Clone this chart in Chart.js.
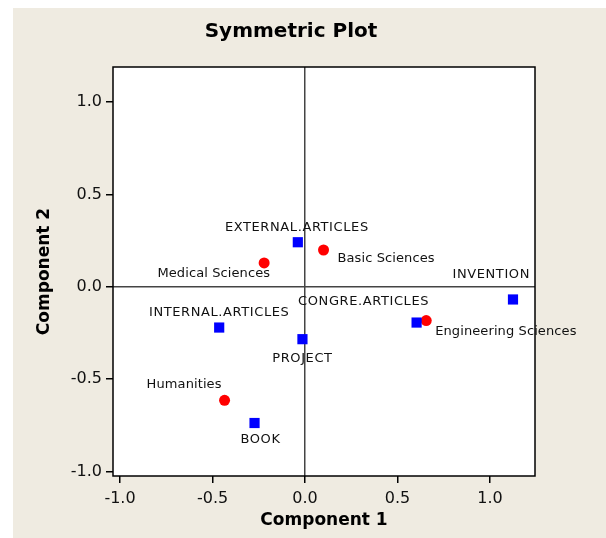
<!DOCTYPE html>
<html>
<head>
<meta charset="utf-8">
<title>Symmetric Plot</title>
<script src="https://cdn.jsdelivr.net/npm/chart.js@4.4.0/dist/chart.umd.min.js"></script>
<style>
  body { margin: 0; background: #fff; }
  canvas { display: block; }
</style>
</head>
<body>
<canvas id="symChart" width="606" height="538"></canvas>
<script>
// 列カテゴリ（四角マーカー）
const columnNames = ['EXTERNAL.ARTICLES', 'INTERNAL.ARTICLES', 'CONGRE.ARTICLES', 'BOOK', 'PROJECT', 'INVENTION'];
const columnComp1 = [-0.039, -0.464, 0.603, -0.273, -0.014, 1.124];
const columnComp2 = [0.241, -0.221, -0.194, -0.738, -0.284, -0.069];

// 行カテゴリ（丸マーカー）
const rowNames = ['Basic Sciences', 'Medical Sciences', 'Engineering Sciences', 'Humanities'];
const rowComp1 = [0.100, -0.221, 0.655, -0.435];
const rowComp2 = [0.199, 0.129, -0.183, -0.615];

// 目盛り
const tickValues = [-1.0, -0.5, 0.0, 0.5, 1.0];

// ラベルの位置（点からのずれ）
const columnLabelPos = [[-1, -15, 'center'], [0, -15, 'center'], [-53, -21, 'center'], [6, 17, 'center'], [0, 19, 'center'], [17, -25, 'right']];
const rowLabelPos = [[14, 9, 'left'], [6, 11, 'right'], [9, 11, 'left'], [-3, -16, 'right']];

const FONT = '"DejaVu Sans", Verdana, sans-serif';

function toPoints(xs, ys) {
    return xs.map((x, i) => ({ x: x, y: ys[i] }));
}

// 背景・枠・タイトル
const framePlugin = {
    id: 'frame',
    beforeDraw(chart) {
        const ctx = chart.ctx;
        const a = chart.chartArea;
        ctx.save();
        ctx.fillStyle = '#efebe1';
        ctx.fillRect(13, 8, chart.width - 13, chart.height - 8);
        ctx.fillStyle = '#ffffff';
        ctx.fillRect(a.left, a.top, a.right - a.left, a.bottom - a.top);
        ctx.fillStyle = '#000';
        ctx.font = 'bold 20px ' + FONT;
        ctx.textAlign = 'center';
        ctx.textBaseline = 'middle';
        ctx.fillText('Symmetric Plot', 291, 32);
        ctx.restore();
    },
    beforeDatasetsDraw(chart) {
        const ctx = chart.ctx;
        const a = chart.chartArea;
        ctx.save();
        ctx.strokeStyle = '#000';
        ctx.lineWidth = 1.5;
        ctx.strokeRect(a.left, a.top, a.right - a.left, a.bottom - a.top);
        ctx.restore();
    }
};

// 点ラベル
const labelPlugin = {
    id: 'pointLabels',
    afterDatasetsDraw(chart) {
        const ctx = chart.ctx;
        const sets = [[columnNames, columnLabelPos], [rowNames, rowLabelPos]];
        ctx.save();
        ctx.font = '13px ' + FONT;
        ctx.fillStyle = '#111';
        ctx.textBaseline = 'middle';
        sets.forEach((s, i) => {
            const meta = chart.getDatasetMeta(i);
            // 大文字ラベルは少し字間を広げる
            ctx.letterSpacing = i === 0 ? '0.6px' : '0.1px';
            meta.data.forEach((pt, j) => {
                const pos = s[1][j];
                ctx.textAlign = pos[2];
                ctx.fillText(s[0][j], pt.x + pos[0], pt.y + pos[1]);
            });
        });
        ctx.restore();
    }
};

function axisOptions(min, max, title, titlePadding, isY) {
    return {
        type: 'linear',
        min: min,
        max: max,
        afterBuildTicks(scale) {
            scale.ticks = tickValues.map(v => ({ value: v }));
        },
        afterFit(scale) {
            if (isY) scale.width = 113;
            else scale.height = 62;
        },
        ticks: {
            color: '#111',
            padding: isY ? 4 : 6,
            font: { family: FONT, size: 16 },
            callback: v => v.toFixed(1)
        },
        grid: {
            drawOnChartArea: true,
            color: c => (c.tick && c.tick.value === 0) ? '#444' : 'rgba(0,0,0,0)',
            tickColor: '#000',
            tickLength: 7,
            lineWidth: 1.5
        },
        border: { display: false },
        title: {
            display: true,
            text: title,
            color: '#000',
            padding: titlePadding,
            font: { family: FONT, size: 17, weight: 'bold' }
        }
    };
}

new Chart(document.getElementById('symChart').getContext('2d'), {
    type: 'scatter',
    data: {
        datasets: [{
            label: 'Columns',
            data: toPoints(columnComp1, columnComp2),
            pointStyle: 'rect',
            pointRadius: 7.2,
            backgroundColor: '#0000ff',
            borderWidth: 0
        }, {
            label: 'Rows',
            data: toPoints(rowComp1, rowComp2),
            pointStyle: 'circle',
            pointRadius: 5.5,
            backgroundColor: '#ff0000',
            borderWidth: 0
        }]
    },
    options: {
        responsive: false,
        animation: false,
        layout: { padding: { left: 0, top: 67, right: 71, bottom: 0 } },
        plugins: {
            legend: { display: false },
            tooltip: { enabled: false }
        },
        scales: {
            x: axisOptions(-1.038, 1.243, 'Component 1', { top: 0, bottom: 7 }, false),
            y: axisOptions(-1.025, 1.19, 'Component 2', { top: 34, bottom: 0 }, true)
        }
    },
    plugins: [framePlugin, labelPlugin]
});
</script>
</body>
</html>
